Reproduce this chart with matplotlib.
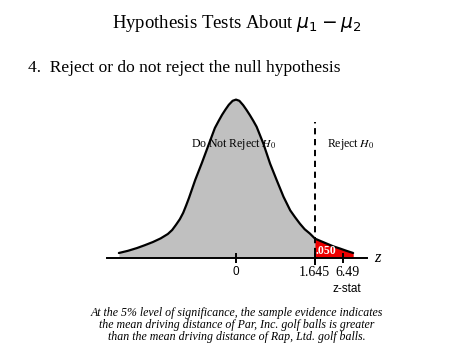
import matplotlib
matplotlib.use("Agg")
import numpy as np
import matplotlib.pyplot as plt
import matplotlib.transforms as mtransforms

# curve (z position, density height)
curve_z = [-2.44, -2.25, -2.06, -1.90, -1.73, -1.57, -1.42, -1.33, -1.25, -1.17,
           -1.10, -1.04, -0.98, -0.85, -0.71, -0.58, -0.44, -0.36, -0.29, -0.22,
           -0.15, -0.07, 0.0, 0.07, 0.15, 0.22, 0.29, 0.36, 0.43, 0.57,
           0.71, 0.85, 0.99, 1.13, 1.23, 1.33, 1.43, 1.54, 1.645, 1.77,
           1.89, 2.03, 2.17, 2.30, 2.44]
curve_y = [0.0125, 0.018, 0.025, 0.032, 0.040, 0.049, 0.060, 0.070, 0.083, 0.097,
           0.113, 0.131, 0.150, 0.195, 0.238, 0.280, 0.325, 0.343, 0.358, 0.371,
           0.383, 0.393, 0.396, 0.393, 0.382, 0.370, 0.357, 0.343, 0.328, 0.286,
           0.236, 0.194, 0.153, 0.119, 0.102, 0.086, 0.072, 0.061, 0.0485, 0.042,
           0.036, 0.029, 0.0235, 0.018, 0.0125]

critical_z = 1.645
stat_pos = 2.23          # where the 6.49 tick sits on the schematic axis
tick_pos = [0, critical_z, stat_pos]
tick_labels = ["0", "1.645", "6.49"]
alpha_label = ".050"

title = "Hypothesis Tests About "
step_text = "4.  Reject or do not reject the null hypothesis"
caption = ("At the 5% level of significance, the sample evidence indicates\n"
           "the mean driving distance of Par, Inc. golf balls is greater\n"
           "than the mean driving distance of Rap, Ltd. golf balls.")

serif = "Liberation Serif"
sans = "Liberation Sans"

W, H = 474, 355
fig = plt.figure(figsize=(W / 100, H / 100), dpi=100)

# axes placed so the baseline sits at y=258 px and spans x 107..367 px
px_per_z = 48.0
zero_px = 236
left_px, right_px = 107, 367
base_px, top_px = 258, 90
ax = fig.add_axes([left_px / W, 1 - base_px / H,
                   (right_px - left_px) / W, (base_px - top_px) / H])
ax.set_xlim((left_px - zero_px) / px_per_z, (right_px - zero_px) / px_per_z)
ax.set_ylim(0, (base_px - top_px) / 400)

z = np.array(curve_z)
y = np.array(curve_y)
ax.fill_between(z, 0, y, color="#c0c0c0", lw=0)
mask = z >= critical_z
ax.fill_between(z[mask], 0, y[mask], color="#ee0000", lw=0)
ax.plot(z, y, color="black", lw=1.6, solid_capstyle="round", solid_joinstyle="round")
ax.plot([critical_z, critical_z], [-0.018, 0.34], color="black", lw=1.4,
        ls=(0, (3.2, 2.4)), clip_on=False)

for s in ["left", "right", "top"]:
    ax.spines[s].set_visible(False)
ax.spines["bottom"].set_linewidth(1.4)
ax.set_yticks([])
ax.set_xticks(tick_pos)
ax.set_xticklabels(["", "", ""])
ax.tick_params(axis="x", direction="inout", length=7, width=1.4, pad=4)

# tick labels: "0" in sans, the others in serif, nudged like the original
label_shift = [0, -1, 4]
label_font = [(sans, 8.5), (serif, 10), (serif, 10)]
trans = mtransforms.blended_transform_factory(ax.transData, ax.transAxes)
for pos, lab, dx, (fam, fs) in zip(tick_pos, tick_labels, label_shift, label_font):
    t = mtransforms.offset_copy(trans, fig=fig, x=dx, y=-14, units="dots")
    ax.text(pos, 0, lab, transform=t, ha="center", va="center",
            family=fam, fontsize=fs, clip_on=False)

ax.text(-0.05, 0.285, r"Do Not Reject $H_0$", ha="center", va="center",
        fontsize=8.5, family=serif, math_fontfamily="stix")
ax.text(2.39, 0.285, r"Reject $H_0$", ha="center", va="center",
        fontsize=8.5, family=serif, math_fontfamily="stix")
ax.text(critical_z + 0.01, 0.017, alpha_label, ha="left", va="center",
        fontsize=8.5, family=serif, color="white", fontweight="bold")
ax.text(2.95, 0.0, "z", ha="center", va="center", fontsize=12,
        family=serif, style="italic", clip_on=False)
fig.text(347 / W, 1 - 289 / H, "z-stat", ha="center", va="center",
         fontsize=8.5, family=sans)

fig.text(237 / W, 1 - 24 / H, title + r"$\mu_1 - \mu_2$", ha="center", va="center",
         fontsize=13.5, family=serif, math_fontfamily="dejavusans")
fig.text(28 / W, 1 - 68 / H, step_text, ha="left", va="center",
         fontsize=12.5, family=serif)
fig.text(237 / W, 1 - 325 / H, caption, ha="center", va="center",
         fontsize=8.6, family=serif, style="italic", linespacing=1.05)

fig.savefig("out.png", dpi=100)
